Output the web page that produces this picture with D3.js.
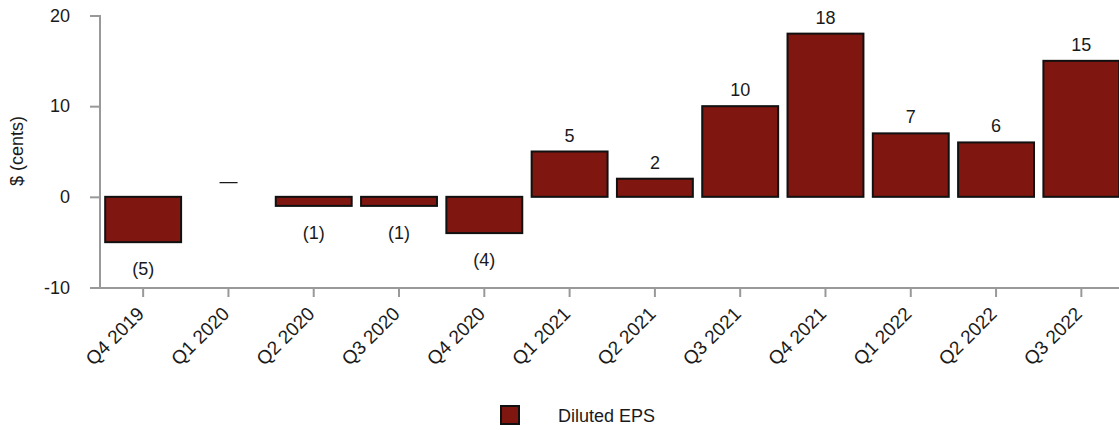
<!DOCTYPE html>
<html><head><meta charset="utf-8">
<script src="https://cdn.jsdelivr.net/npm/d3@7"></script>
<style>body{margin:0;background:#fff;} text{font-family:"Liberation Sans",Arial,sans-serif;}</style>
</head><body><svg id="c" width="1119" height="430"></svg>
<script>
const categories = ["Q4 2019","Q1 2020","Q2 2020","Q3 2020","Q4 2020","Q1 2021","Q2 2021","Q3 2021","Q4 2021","Q1 2022","Q2 2022","Q3 2022"];
const values = [-5, 0, -1, -1, -4, 5, 2, 10, 18, 7, 6, 15];
const labels = ["(5)","—","(1)","(1)","(4)","5","2","10","18","7","6","15"];
const yTicks = [-10, 0, 10, 20];
const seriesName = "Diluted EPS";

const svg = d3.select("#c");
const x = d3.scaleBand().domain(categories).range([100.5, 1124]).paddingInner(0.11).paddingOuter(0.055);
const y = d3.scaleLinear().domain([-10, 20]).range([287.5, 15.5]);
const axisColor = "#999";
const textColor = "#1a1a1a";
const fs = 18;

// y axis
const ya = svg.append("g").attr("transform","translate(100,0)")
  .call(d3.axisLeft(y).tickValues(yTicks).tickSize(10).tickPadding(20).tickFormat(d => String(d)));
ya.select(".domain").attr("stroke",axisColor).attr("stroke-width",2).attr("d","M0,15V288");
ya.selectAll(".tick line").attr("stroke",axisColor).attr("stroke-width",2);
ya.selectAll(".tick text").attr("font-size",fs).attr("fill",textColor);

// x axis
const xa = svg.append("g").attr("transform","translate(0,288)")
  .call(d3.axisBottom(x).tickSize(9).tickSizeOuter(0));
xa.select(".domain").attr("stroke",axisColor).attr("stroke-width",2).attr("d","M90,0H1119");
xa.selectAll(".tick line").attr("stroke",axisColor).attr("stroke-width",2);
xa.selectAll(".tick text").attr("font-size",19).attr("fill",textColor)
  .attr("text-anchor","end").attr("x",0).attr("y",0).attr("dy",0)
  .attr("transform","translate(2,27) rotate(-45)");

// bars
svg.append("g").selectAll("rect").data(values).join("rect")
  .attr("x",(d,i)=>x(categories[i]))
  .attr("width",x.bandwidth())
  .attr("y",d=>y(Math.max(0,d)))
  .attr("height",d=>Math.abs(y(d)-y(0)))
  .attr("fill","#7f1710").attr("stroke","#111").attr("stroke-width",2)
  .attr("display",d=>d===0?"none":null);

// value labels
svg.append("g").selectAll("text").data(values).join("text")
  .attr("x",(d,i)=>x(categories[i])+x.bandwidth()/2)
  .attr("y",d=> d>=0 ? y(d)-10 : y(d)+33)
  .attr("text-anchor","middle").attr("font-size",fs).attr("fill",textColor)
  .text((d,i)=>labels[i]);

// y label
svg.append("text").attr("transform","translate(23,151) rotate(-90)")
  .attr("text-anchor","middle").attr("font-size",fs).attr("fill",textColor).text("$ (cents)");

// legend
svg.append("rect").attr("x",501).attr("y",406).attr("width",18).attr("height",18)
  .attr("fill","#7f1710").attr("stroke","#111").attr("stroke-width",2);
svg.append("text").attr("x",558).attr("y",422).attr("font-size",fs).attr("fill",textColor).text(seriesName);
</script></body></html>
